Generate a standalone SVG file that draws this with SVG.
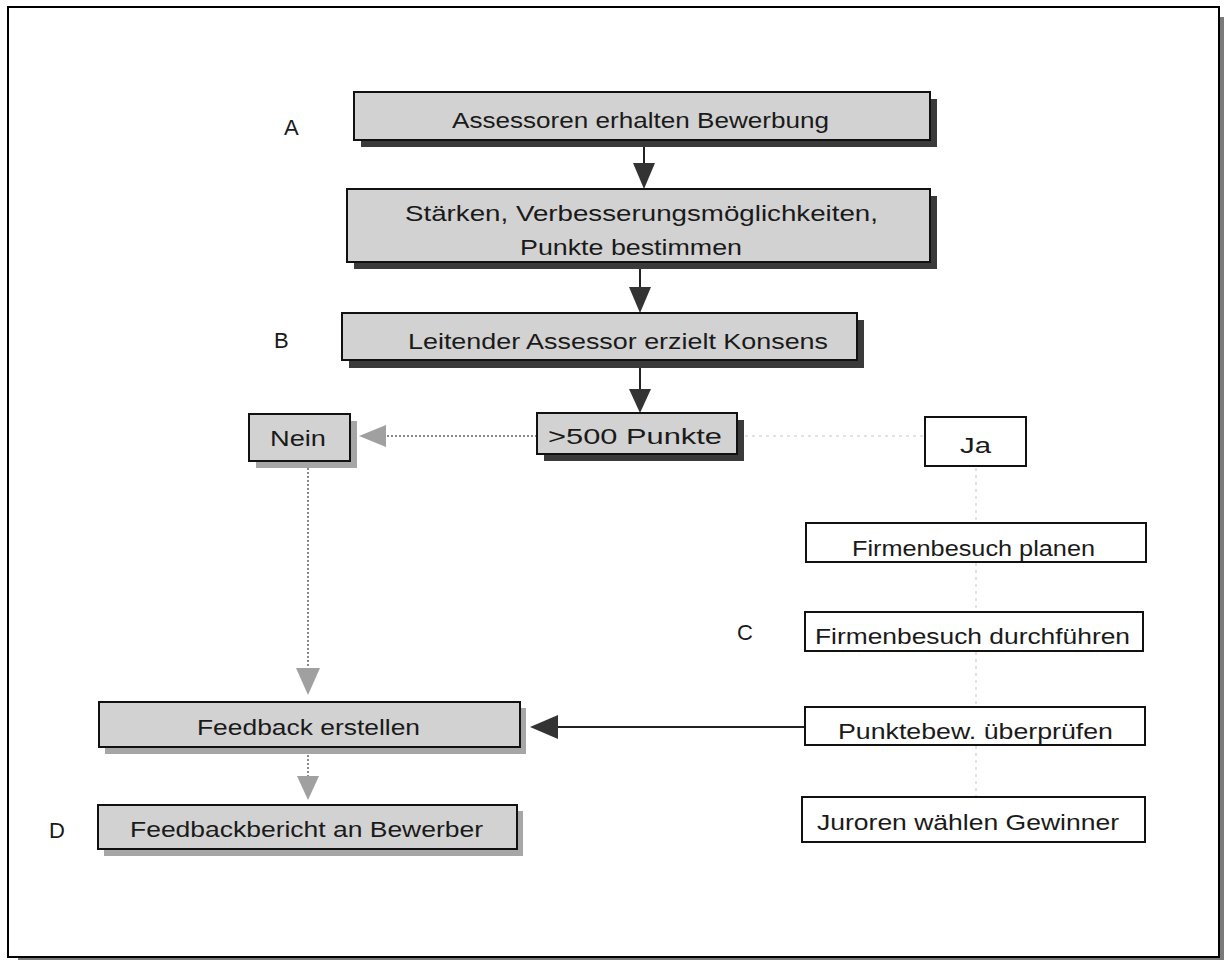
<svg xmlns="http://www.w3.org/2000/svg" width="1224" height="960" viewBox="0 0 1224 960">
<style>
.t{font-family:"Liberation Sans",Arial,Helvetica,sans-serif;font-size:22px;fill:#1a1a1a}
.g{fill:#d2d2d2;stroke:#111;stroke-width:2}
.w{fill:#fff;stroke:#111;stroke-width:2}
.sd{fill:#3a3a3a}
.sl{fill:#a6a6a6}
.ln{stroke:#222;stroke-width:2;fill:none}
.dl{stroke:#8a8a8a;stroke-width:2;stroke-dasharray:2 2;fill:none}
.fl{stroke:#e2e2e2;stroke-width:2;stroke-dasharray:3 4;fill:none}
.ah{fill:#333}
.ahl{fill:#a0a0a0}
</style>
<g id="frame">
<rect x="18" y="17" width="1206" height="943" fill="#7a7a7a"/>
<rect x="8" y="7" width="1211" height="950" fill="#fff" stroke="#000" stroke-width="2"/>
</g>
<g id="connectors">
<line class="ln" x1="644" y1="147" x2="644" y2="165"/>
<polygon class="ah" points="633,163 655,163 644,189"/>
<line class="ln" x1="640" y1="268" x2="640" y2="289"/>
<polygon class="ah" points="629,287 651,287 640,313"/>
<line class="ln" x1="640" y1="368" x2="640" y2="390"/>
<polygon class="ah" points="629,389 651,389 640,413"/>
<line class="dl" x1="537" y1="436" x2="384" y2="436"/>
<polygon class="ahl" points="386,425 386,447 359,436"/>
<line class="fl" x1="745" y1="436" x2="925" y2="436"/>
<line class="fl" x1="976" y1="468" x2="976" y2="522"/>
<line class="fl" x1="976" y1="563" x2="976" y2="611"/>
<line class="fl" x1="976" y1="652" x2="976" y2="706"/>
<line class="fl" x1="976" y1="746" x2="976" y2="796"/>
<line class="dl" x1="308" y1="468" x2="308" y2="670"/>
<polygon class="ahl" points="296,668 320,668 308,695"/>
<line class="ln" x1="805" y1="727" x2="556" y2="727"/>
<polygon class="ah" points="558,715 558,739 530,727"/>
<line class="dl" x1="308" y1="755" x2="308" y2="778"/>
<polygon class="ahl" points="297,776 319,776 308,800"/>
</g>
<g id="n1">
<rect class="sd" x="361" y="99" width="576" height="48"/>
<rect class="g" x="354" y="92" width="576" height="48"/>
<text class="t" x="452" y="128" textLength="377" lengthAdjust="spacingAndGlyphs">Assessoren erhalten Bewerbung</text>
</g>
<g id="n2">
<rect class="sd" x="354" y="196" width="583" height="73"/>
<rect class="g" x="347" y="189" width="583" height="73"/>
<text class="t" x="405" y="221" textLength="473" lengthAdjust="spacingAndGlyphs">Stärken, Verbesserungsmöglichkeiten,</text>
<text class="t" x="520" y="255" textLength="222" lengthAdjust="spacingAndGlyphs">Punkte bestimmen</text>
</g>
<g id="n3">
<rect class="sd" x="349" y="320" width="515" height="48"/>
<rect class="g" x="342" y="313" width="515" height="47"/>
<text class="t" x="408" y="349" textLength="420" lengthAdjust="spacingAndGlyphs">Leitender Assessor erzielt Konsens</text>
</g>
<g id="n4">
<rect class="sd" x="544" y="420" width="200" height="41"/>
<rect class="g" x="537" y="413" width="200" height="41"/>
<text class="t" x="548" y="444" textLength="174" lengthAdjust="spacingAndGlyphs">&gt;500 Punkte</text>
</g>
<g id="nein">
<rect class="sl" x="256" y="421" width="101" height="47"/>
<rect class="g" x="249" y="414" width="101" height="47"/>
<text class="t" x="270" y="446" textLength="56" lengthAdjust="spacingAndGlyphs">Nein</text>
</g>
<g id="ja">
<rect class="w" x="925" y="417" width="101" height="49"/>
<text class="t" x="960" y="453" textLength="31" lengthAdjust="spacingAndGlyphs">Ja</text>
</g>
<g id="planen">
<rect class="w" x="806" y="523" width="340" height="39"/>
<text class="t" x="852" y="556" textLength="243" lengthAdjust="spacingAndGlyphs">Firmenbesuch planen</text>
</g>
<g id="durchfuehren">
<rect class="w" x="805" y="612" width="338" height="39"/>
<text class="t" x="815" y="644" textLength="315" lengthAdjust="spacingAndGlyphs">Firmenbesuch durchführen</text>
</g>
<g id="pruefen">
<rect class="w" x="805" y="707" width="340" height="38"/>
<text class="t" x="838" y="739" textLength="275" lengthAdjust="spacingAndGlyphs">Punktebew. überprüfen</text>
</g>
<g id="juroren">
<rect class="w" x="802" y="797" width="343" height="45"/>
<text class="t" x="817" y="830" textLength="302" lengthAdjust="spacingAndGlyphs">Juroren wählen Gewinner</text>
</g>
<g id="feedback">
<rect class="sl" x="105" y="708" width="421" height="46"/>
<rect class="g" x="99" y="702" width="421" height="45"/>
<text class="t" x="197" y="735" textLength="223" lengthAdjust="spacingAndGlyphs">Feedback erstellen</text>
</g>
<g id="bericht">
<rect class="sl" x="104" y="811" width="419" height="45"/>
<rect class="g" x="98" y="805" width="419" height="44"/>
<text class="t" x="130" y="837" textLength="353" lengthAdjust="spacingAndGlyphs">Feedbackbericht an Bewerber</text>
</g>
<g id="labels">
<text class="t" x="284" y="135">A</text>
<text class="t" x="274" y="348">B</text>
<text class="t" x="737" y="640">C</text>
<text class="t" x="49" y="838">D</text>
</g>
</svg>
